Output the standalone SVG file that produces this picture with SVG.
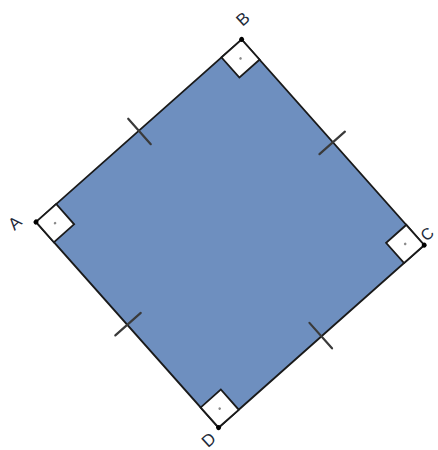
<svg xmlns="http://www.w3.org/2000/svg" width="438" height="450" viewBox="0 0 438 450">
<style>
.edge{fill:#6e8fbf;stroke:#1a1a1a;stroke-width:1.8}
.ra{fill:#ffffff;stroke:#1a1a1a;stroke-width:1.8}
.tick{stroke:#3a3a3a;stroke-width:2.2;stroke-linecap:round}
.dot{fill:#8a8a8a}
.vtx{fill:#000}
.lbl{font-family:"Liberation Sans",Arial,sans-serif;font-size:17px;fill:#1e2a3a;text-anchor:middle;dominant-baseline:central}
</style>
<rect width="438" height="450" fill="#ffffff"/>
<g transform="translate(36,222) rotate(-41.6)">
  <rect id="square" class="edge" x="0" y="0" width="275" height="275"/>
  <g id="rightangles">
    <rect class="ra" x="0" y="0" width="27" height="27"/>
    <rect class="ra" x="248" y="0" width="27" height="27"/>
    <rect class="ra" x="248" y="248" width="27" height="27"/>
    <rect class="ra" x="0" y="248" width="27" height="27"/>
    <circle class="dot" cx="13.5" cy="13.5" r="1.3"/>
    <circle class="dot" cx="261.5" cy="13.5" r="1.3"/>
    <circle class="dot" cx="261.5" cy="261.5" r="1.3"/>
    <circle class="dot" cx="13.5" cy="261.5" r="1.3"/>
  </g>
  <g id="ticks">
    <line class="tick" x1="137.5" y1="-16" x2="137.5" y2="18"/>
    <line class="tick" x1="257" y1="137.5" x2="291" y2="137.5"/>
    <line class="tick" x1="137.5" y1="257" x2="137.5" y2="291"/>
    <line class="tick" x1="-16" y1="137.5" x2="18" y2="137.5"/>
  </g>
  <g id="vertices">
    <circle id="A" class="vtx" cx="0" cy="0" r="2.5"/>
    <circle id="B" class="vtx" cx="275" cy="0" r="2.5"/>
    <circle id="C" class="vtx" cx="275" cy="275" r="2.5"/>
    <circle id="D" class="vtx" cx="0" cy="275" r="2.5"/>
  </g>
</g>
<g id="labels">
  <text class="lbl" transform="translate(15,223) rotate(-42)">A</text>
  <text class="lbl" transform="translate(243,19) rotate(-42)">B</text>
  <text class="lbl" style="font-size:16px" transform="translate(427,234) rotate(-42)">C</text>
  <text class="lbl" transform="translate(209,440) rotate(-42)">D</text>
</g>
</svg>
